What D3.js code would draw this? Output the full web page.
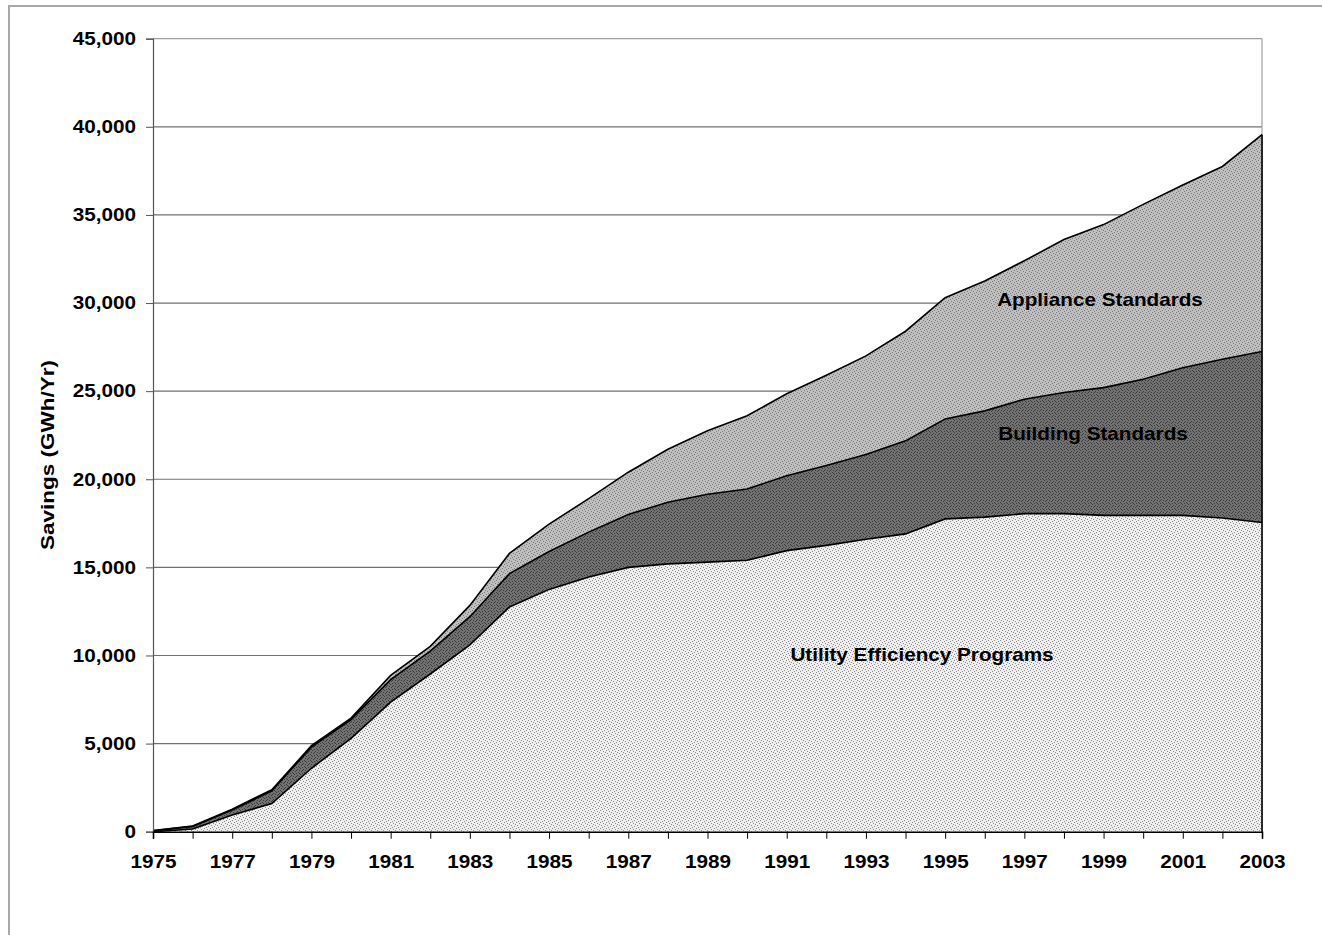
<!DOCTYPE html>
<html><head><meta charset="utf-8">
<script src="https://cdn.jsdelivr.net/npm/d3@7"></script>
<style>
html,body{margin:0;padding:0;background:#fff;}
svg text{font-family:"Liberation Sans",Arial,sans-serif;font-weight:bold;fill:#000;}
</style></head>
<body>
<svg id="chart" width="1322" height="935"></svg>
<script>
const years = [1975,1976,1977,1978,1979,1980,1981,1982,1983,1984,1985,1986,1987,1988,1989,1990,1991,1992,1993,1994,1995,1996,1997,1998,1999,2000,2001,2002,2003];
const utility = [0,150,950,1600,3600,5300,7350,8950,10600,12750,13750,14450,15000,15200,15300,15400,15950,16250,16600,16900,17750,17850,18050,18050,17950,17950,17950,17800,17550];
const building = [50,150,280,720,1200,1060,1280,1300,1600,1900,2150,2550,3000,3500,3850,4050,4250,4530,4800,5280,5670,6030,6490,6870,7250,7730,8380,9010,9700];
const appliance = [10,20,50,60,80,90,240,270,640,1150,1550,1900,2400,3000,3600,4150,4650,5120,5600,6220,6880,7370,7860,8680,9250,9920,10370,10940,12300];
const yTicks = [0,5000,10000,15000,20000,25000,30000,35000,40000,45000];
const xTickLabels = [1975,1977,1979,1981,1983,1985,1987,1989,1991,1993,1995,1997,1999,2001,2003];
const seriesNames = ["Utility Efficiency Programs","Building Standards","Appliance Standards"];

(function(){
const svg = d3.select("#chart");
const pL = 153, pR = 1262, pT = 38.7, pB = 831.7;
const x = d3.scaleLinear().domain([1975,2003]).range([pL,pR]);
const y = d3.scaleLinear().domain([0,45000]).range([pB,pT]);
const SX = 1.15, FS = 18;

// outer frame
svg.append("rect").attr("x",9).attr("y",6).attr("width",1400).attr("height",1000)
  .attr("fill","none").attr("stroke","#a8a8a8").attr("stroke-width",2);

// patterns
const defs = svg.append("defs");
function pat(id, bg, dots, color){
  const p = defs.append("pattern").attr("id",id).attr("patternUnits","userSpaceOnUse")
    .attr("width",6).attr("height",6);
  p.append("rect").attr("width",6).attr("height",6).attr("fill",bg);
  dots.forEach(d=>p.append("rect").attr("x",d[0]).attr("y",d[1]).attr("width",1).attr("height",1).attr("fill",color));
}
pat("pU","#efefef",[[0,0],[3,1],[1,3],[4,4],[5,2],[2,5]],"#8a8a8a");
pat("pB","#727272",[[0,0],[3,1],[1,3],[4,4],[5,2],[2,5],[2,2],[5,5]],"#3a3a3a");
pat("pA","#bfbfbf",[[0,0],[3,1],[1,3],[4,4],[5,2],[2,5]],"#7a7a7a");

// gridlines
svg.append("g").selectAll("line").data(yTicks.filter(t=>t>0)).join("line")
  .attr("x1",pL).attr("x2",pR).attr("y1",d=>y(d)).attr("y2",d=>y(d))
  .attr("stroke",d=>d===45000?"#a0a0a0":"#707070").attr("stroke-width",1.2);
svg.append("line").attr("x1",pR).attr("x2",pR).attr("y1",pT).attr("y2",pB)
  .attr("stroke","#a0a0a0").attr("stroke-width",1.2);

// stack
const table = years.map((yr,i)=>({year:yr, u:utility[i], b:building[i], a:appliance[i]}));
const stack = d3.stack().keys(["u","b","a"])(table);
const area = d3.area().x(d=>x(d.data.year)).y0(d=>y(d[0])).y1(d=>y(d[1]));
const line = d3.line().x(d=>x(d.data.year)).y(d=>y(d[1]));
const fills = ["url(#pU)","url(#pB)","url(#pA)"];
svg.append("g").selectAll("path").data(stack).join("path")
  .attr("d",area).attr("fill",(d,i)=>fills[i]).attr("stroke","none");
svg.append("g").selectAll("path").data(stack).join("path")
  .attr("d",line).attr("fill","none").attr("stroke","#000").attr("stroke-width",1.6);
const last = stack[2][stack[2].length-1];
svg.append("line").attr("x1",pR).attr("x2",pR)
  .attr("y1",y(last[1])).attr("y2",pB)
  .attr("stroke","#000").attr("stroke-width",1.6);

// y axis
const yAxis = svg.append("g").attr("transform",`translate(${pL},0)`)
  .call(d3.axisLeft(y).tickValues(yTicks).tickFormat(d3.format(",")).tickSize(7).tickPadding(11));
yAxis.select(".domain").attr("stroke","#555").attr("stroke-width",1.2);
yAxis.selectAll(".tick line").attr("stroke","#555");
yAxis.selectAll("text").attr("font-size",FS).attr("font-family",null)
  .attr("transform",`scale(${SX},1)`).attr("x",-17/SX);

// x axis
const xAxis = svg.append("g").attr("transform",`translate(0,${pB})`)
  .call(d3.axisBottom(x).tickValues(years).tickFormat(d=>xTickLabels.includes(d)?d:"").tickSize(7).tickPadding(17));
xAxis.select(".domain").attr("stroke","#000").attr("stroke-width",1.6);
xAxis.selectAll(".tick line").attr("stroke","#000");
xAxis.selectAll("text").attr("font-size",FS).attr("font-family",null)
  .attr("transform",`scale(${SX},1)`);

// y axis title
svg.append("text").attr("transform",`translate(47,455) rotate(-90) scale(1.25,1.05)`)
  .attr("text-anchor","middle").attr("font-size",FS).attr("dy","0.35em").text("Savings (GWh/Yr)");

// series labels
const labelPos = [[922,655],[1093,434],[1100,300]];
seriesNames.forEach((n,i)=>{
  svg.append("text").attr("transform",`translate(${labelPos[i][0]},${labelPos[i][1]}) scale(${SX},1)`)
    .attr("text-anchor","middle").attr("dy","0.35em").attr("font-size",FS).text(n);
});
})();
</script>
</body></html>
